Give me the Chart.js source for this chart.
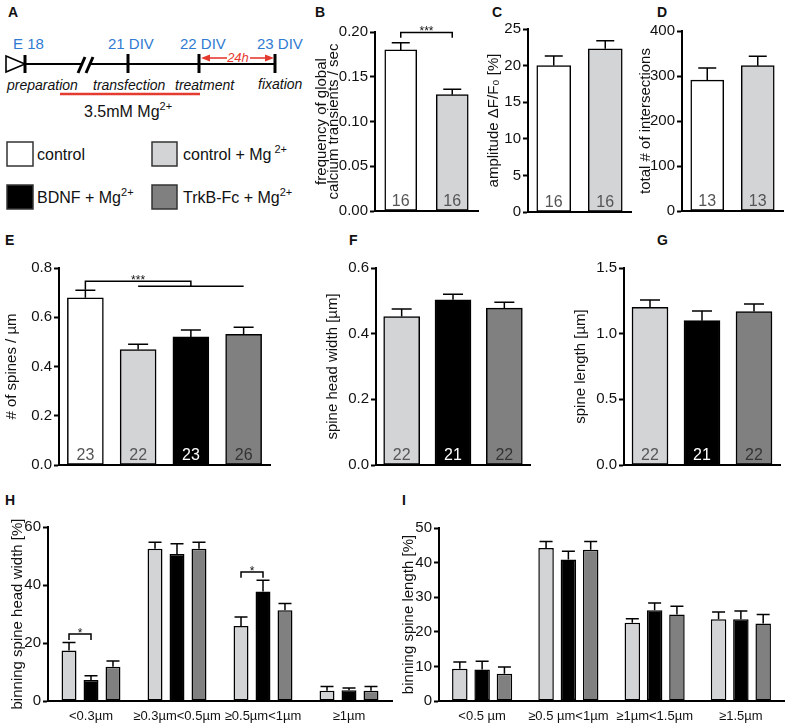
<!DOCTYPE html>
<html>
<head>
<meta charset="utf-8">
<script src="https://cdn.jsdelivr.net/npm/chart.js"></script>
<style>
  body { margin: 0; background: #fff; width: 787px; height: 726px; overflow: hidden; position: relative;
         font-family: "Liberation Sans", Arial, sans-serif; }
  .letter { position: absolute; font-weight: bold; font-size: 14px; line-height: 14px; color: #111; }
</style>
</head>
<body>

<!-- panel A: timeline + legend -->
<svg style="position:absolute;left:0;top:0" width="312" height="215" font-family="Liberation Sans, Arial, sans-serif">
  <g fill="#2f7bd2" font-size="15">
    <text x="13" y="49">E 18</text>
    <text x="108" y="49">21 DIV</text>
    <text x="180" y="49">22 DIV</text>
    <text x="257" y="49">23 DIV</text>
  </g>
  <polygon points="6,56 25,64 6,72" fill="none" stroke="#000" stroke-width="1.6"/>
  <g stroke="#000" stroke-width="2.2">
    <line x1="25" y1="64" x2="82" y2="64"/>
    <line x1="90" y1="64" x2="275" y2="64"/>
  </g>
  <g stroke="#000" stroke-width="3">
    <line x1="25" y1="55" x2="25" y2="73"/>
    <line x1="78" y1="73" x2="85" y2="57"/>
    <line x1="86" y1="73" x2="93" y2="57"/>
    <line x1="128" y1="54" x2="128" y2="73"/>
    <line x1="199" y1="54" x2="199" y2="73"/>
    <line x1="275" y1="54" x2="275" y2="73"/>
  </g>
  <g stroke="#e53a2f" stroke-width="1.6" fill="#e53a2f">
    <line x1="206" y1="58" x2="227" y2="58"/>
    <line x1="250" y1="58" x2="268" y2="58"/>
    <polygon points="201,58 210,54.5 210,61.5" stroke="none"/>
    <polygon points="274,58 265,54.5 265,61.5" stroke="none"/>
  </g>
  <text x="238" y="62" fill="#e53a2f" font-size="13" font-style="italic" text-anchor="middle">24h</text>
  <g font-size="14" font-style="italic" fill="#111">
    <text x="7" y="90">preparation</text>
    <text x="93" y="90">transfection</text>
    <text x="175" y="90">treatment</text>
    <text x="258" y="89">fixation</text>
  </g>
  <line x1="60" y1="94" x2="200" y2="94" stroke="#e53a2f" stroke-width="2.5"/>
  <text x="84" y="117" font-size="16" fill="#111">3.5mM Mg<tspan dy="-7" font-size="11">2+</tspan></text>

  <g stroke="#333" stroke-width="1.5">
    <rect x="7" y="142" width="26" height="24" fill="#ffffff"/>
    <rect x="152" y="142" width="25" height="24" fill="#d3d4d6"/>
    <rect x="7" y="185" width="26" height="24" fill="#000000"/>
    <rect x="152" y="185" width="25" height="24" fill="#808080"/>
  </g>
  <g font-size="16" fill="#111">
    <text x="37" y="160">control</text>
    <text x="183" y="160">control + Mg<tspan dx="3" dy="-7" font-size="11">2+</tspan></text>
    <text x="37" y="203">BDNF + Mg<tspan dy="-7" font-size="11">2+</tspan></text>
    <text x="183" y="203">TrkB-Fc + Mg<tspan dy="-7" font-size="11">2+</tspan></text>
  </g>
</svg>

<div class="letter" style="left:8px;top:5px">A</div>
<div class="letter" style="left:315px;top:5px">B</div>
<div class="letter" style="left:492px;top:5px">C</div>
<div class="letter" style="left:657px;top:5px">D</div>
<div class="letter" style="left:5px;top:233px">E</div>
<div class="letter" style="left:349px;top:233px">F</div>
<div class="letter" style="left:657px;top:233px">G</div>
<div class="letter" style="left:5px;top:493px">H</div>
<div class="letter" style="left:402px;top:493px">I</div>

<script>
// ---- data ----
const groups = ['control', 'control + Mg2+', 'BDNF + Mg2+', 'TrkB-Fc + Mg2+'];

// B: frequency of global calcium transients
const freqVals = [0.180, 0.130];
const freqErr = [0.188, 0.136];
const freqN = ['16', '16'];
const freqTicks = [0, 0.05, 0.10, 0.15, 0.20];

// C: amplitude
const ampVals = [20.0, 22.3];
const ampErr = [21.3, 23.4];
const ampN = ['16', '16'];
const ampTicks = [0, 5, 10, 15, 20, 25];

// D: total # of intersections
const intVals = [291, 323];
const intErr = [318, 344];
const intN = ['13', '13'];
const intTicks = [0, 100, 200, 300, 400];

// E: # of spines / um
const spineVals = [0.679, 0.469, 0.520, 0.531];
const spineErr = [0.710, 0.490, 0.548, 0.559];
const spineN = ['23', '22', '23', '26'];
const spineTicks = [0, 0.2, 0.4, 0.6, 0.8];

// F: spine head width
const headVals = [0.452, 0.503, 0.478];
const headErr = [0.475, 0.520, 0.496];
const headN = ['22', '21', '22'];
const headTicks = [0, 0.2, 0.4, 0.6];

// G: spine length
const lenVals = [1.201, 1.099, 1.168];
const lenErr = [1.257, 1.173, 1.226];
const lenN = ['22', '21', '22'];
const lenTicks = [0, 0.5, 1.0, 1.5];

// H: binning spine head width
const headBins = ['<0.3µm', '≥0.3µm<0.5µm', '≥0.5µm<1µm', '≥1µm'];
const headBinCtrl = [17.4, 52.5, 25.9, 3.5];
const headBinCtrlErr = [20.2, 54.7, 29.0, 5.0];
const headBinBdnf = [7.2, 50.7, 37.8, 3.7];
const headBinBdnfErr = [8.7, 54.2, 41.6, 4.5];
const headBinTrkb = [11.8, 52.5, 31.3, 3.5];
const headBinTrkbErr = [13.8, 54.7, 33.6, 5.0];
const headBinTicks = [0, 20, 40, 60];

// I: binning spine length
const lenBins = ['<0.5 µm', '≥0.5 µm<1µm', '≥1µm<1.5µm', '≥1.5µm'];
const lenBinCtrl = [9.3, 44.2, 22.6, 23.6];
const lenBinCtrlErr = [11.3, 46.1, 23.8, 25.7];
const lenBinBdnf = [9.1, 40.9, 26.2, 23.6];
const lenBinBdnfErr = [11.5, 43.3, 28.3, 26.0];
const lenBinTrkb = [7.9, 43.7, 25.0, 22.4];
const lenBinTrkbErr = [9.8, 46.1, 27.4, 25.0];
const lenBinTicks = [0, 10, 20, 30, 40, 50];

// ---- styles ----
const WHITE = '#ffffff', LIGHT = '#d3d4d6', BLACK = '#000000', DARK = '#808080';

Chart.defaults.font.family = '"Liberation Sans", Arial, sans-serif';
Chart.defaults.color = '#111';
Chart.defaults.animation = false;

function nColor(fill) {
  if (fill === BLACK) return '#ffffff';
  if (fill === DARK) return '#333333';
  return '#555555';
}

// error bars, n labels and significance brackets
const extras = {
  id: 'extras',
  afterDatasetsDraw(chart, args, opts) {
    const ctx = chart.ctx;
    const y = chart.scales.y;
    const zero = y.getPixelForValue(0);
    ctx.save();
    chart.data.datasets.forEach((ds, di) => {
      const meta = chart.getDatasetMeta(di);
      meta.data.forEach((bar, i) => {
        const top = y.getPixelForValue(ds.errTop[i]);
        ctx.strokeStyle = '#000';
        ctx.lineWidth = 1.5;
        ctx.beginPath();
        ctx.moveTo(bar.x, bar.y);
        ctx.lineTo(bar.x, top);
        ctx.moveTo(bar.x - opts.cap, top);
        ctx.lineTo(bar.x + opts.cap, top);
        ctx.stroke();
        if (ds.nLabels) {
          const fill = Array.isArray(ds.backgroundColor) ? ds.backgroundColor[i] : ds.backgroundColor;
          ctx.fillStyle = nColor(fill);
          ctx.font = '16px "Liberation Sans", Arial, sans-serif';
          ctx.textAlign = 'center';
          ctx.textBaseline = 'alphabetic';
          ctx.fillText(ds.nLabels[i], bar.x, zero - 5);
        }
      });
    });

    const bx = r => chart.getDatasetMeta(r[0]).data[r[1]].x;
    const isSpan = r => Array.isArray(r[0]);
    const rx = r => isSpan(r) ? (bx(r[0]) + bx(r[1])) / 2 : bx(r);
    (opts.brackets || []).forEach(b => {
      const xa = rx(b.a), xb = rx(b.b);
      const py = y.getPixelForValue(b.y);
      ctx.strokeStyle = '#000';
      ctx.lineWidth = 1.5;
      ctx.beginPath();
      ctx.moveTo(xa, y.getPixelForValue(b.legA));
      ctx.lineTo(xa, py);
      ctx.lineTo(xb, py);
      ctx.lineTo(xb, y.getPixelForValue(b.legB));
      if (isSpan(b.b)) {
        const pl = y.getPixelForValue(b.legB);
        ctx.moveTo(bx(b.b[0]), pl);
        ctx.lineTo(bx(b.b[1]), pl);
      }
      ctx.stroke();
      ctx.fillStyle = '#111';
      ctx.font = '12px "Liberation Sans", Arial, sans-serif';
      ctx.textAlign = 'center';
      ctx.textBaseline = 'alphabetic';
      ctx.fillText(b.text, (xa + xb) / 2, py + 3);
    });
    ctx.restore();
  }
};

function makePanel(box, data, opt) {
  const padTop = 14, padRight = 2;
  const padBottom = Math.max(2, 12 - box.xH);
  const left = box.axisX - box.yW;
  const top = box.topY - padTop;
  const w = box.rightX - left + padRight;
  const h = box.zeroY - top + box.xH + padBottom;
  const c = document.createElement('canvas');
  c.width = w;
  c.height = h;
  c.style.cssText = 'position:absolute;left:' + left + 'px;top:' + top + 'px;width:' + w + 'px;height:' + h + 'px';
  document.body.appendChild(c);

  new Chart(c, {
    type: 'bar',
    data: data,
    options: {
      responsive: false,
      events: [],
      layout: { padding: { top: padTop, right: padRight, bottom: padBottom, left: 0 } },
      plugins: {
        legend: { display: false },
        tooltip: { enabled: false },
        extras: { cap: opt.cap, brackets: opt.brackets || [] }
      },
      scales: {
        x: {
          offset: true,
          grid: { display: false, drawTicks: false, tickLength: 0 },
          border: { display: true, color: '#000', width: 2 },
          ticks: { display: !!opt.showX, font: { size: 13 }, padding: 8, maxRotation: 0, autoSkip: false, color: '#111' },
          afterFit: s => { s.height = box.xH; }
        },
        y: {
          min: opt.ticks[0],
          max: opt.ticks[opt.ticks.length - 1],
          afterBuildTicks: s => { s.ticks = opt.ticks.map(v => ({ value: v })); },
          afterFit: s => { s.width = box.yW; },
          grid: { drawOnChartArea: false, drawTicks: true, tickLength: 5, tickWidth: 2, tickColor: '#000' },
          border: { display: true, color: '#000', width: 2 },
          ticks: { font: { size: 15 }, padding: 2, color: '#111', callback: v => v.toFixed(opt.dec) },
          title: { display: true, text: opt.title, font: { size: 15, lineHeight: opt.titleLH || 1.2 }, padding: 0, color: '#111' }
        }
      }
    },
    plugins: [extras]
  });
}

function single(labels, vals, err, n, fills, bw) {
  return {
    labels: labels,
    datasets: [{
      data: vals, errTop: err, nLabels: n,
      backgroundColor: fills, borderColor: '#000', borderWidth: 1.5,
      borderSkipped: false, barThickness: bw
    }]
  };
}

function grouped(labels, sets, catPct, barPct) {
  return {
    labels: labels,
    datasets: sets.map(s => ({
      data: s[0], errTop: s[1], backgroundColor: s[2],
      borderColor: '#000', borderWidth: 1.5, borderSkipped: false,
      categoryPercentage: catPct, barPercentage: barPct
    }))
  };
}

// B
makePanel({ axisX: 375, topY: 32, zeroY: 211, rightX: 478, yW: 60, xH: 0 },
  single(groups.slice(0, 2), freqVals, freqErr, freqN, [WHITE, LIGHT], 32),
  { ticks: freqTicks, dec: 2, cap: 9, titleLH: 0.85,
    title: ['frequency of global', 'calcium transients / sec'],
    brackets: [{ a: [0, 0], b: [0, 1], y: 0.1995, legA: 0.1935, legB: 0.1935, text: '***' }] });

// C
makePanel({ axisX: 528, topY: 29, zeroY: 212, rightX: 631, yW: 43, xH: 0 },
  single(groups.slice(0, 2), ampVals, ampErr, ampN, [WHITE, LIGHT], 34),
  { ticks: ampTicks, dec: 0, cap: 9, title: 'amplitude ΔF/F₀ [%]' });

// D
makePanel({ axisX: 682, topY: 31, zeroY: 211, rightX: 783, yW: 45, xH: 0 },
  single(groups.slice(0, 2), intVals, intErr, intN, [WHITE, LIGHT], 33),
  { ticks: intTicks, dec: 0, cap: 9, title: 'total # of intersections' });

// E
makePanel({ axisX: 59, topY: 268, zeroY: 465, rightX: 270, yW: 56, xH: 0 },
  single(groups, spineVals, spineErr, spineN, [WHITE, LIGHT, BLACK, DARK], 36),
  { ticks: spineTicks, dec: 1, cap: 10, title: '# of spines / µm',
    brackets: [{ a: [0, 0], b: [[0, 1], [0, 3]], y: 0.746, legA: 0.712, legB: 0.726, text: '***' }] });

// F
makePanel({ axisX: 376, topY: 268, zeroY: 465, rightX: 530, yW: 52, xH: 0 },
  single(groups.slice(1), headVals, headErr, headN, [LIGHT, BLACK, DARK], 36),
  { ticks: headTicks, dec: 1, cap: 10, title: 'spine head width [µm]' });

// G
makePanel({ axisX: 624, topY: 268, zeroY: 465, rightX: 780, yW: 52, xH: 0 },
  single(groups.slice(1), lenVals, lenErr, lenN, [LIGHT, BLACK, DARK], 36),
  { ticks: lenTicks, dec: 1, cap: 10, title: 'spine length [µm]' });

// H
makePanel({ axisX: 48, topY: 527, zeroY: 701, rightX: 392, yW: 39, xH: 24 },
  grouped(headBins, [
    [headBinCtrl, headBinCtrlErr, LIGHT],
    [headBinBdnf, headBinBdnfErr, BLACK],
    [headBinTrkb, headBinTrkbErr, DARK]
  ], 0.767, 0.68),
  { ticks: headBinTicks, dec: 0, cap: 6.5, showX: true, title: 'binning spine head width [%]',
    brackets: [
      { a: [0, 0], b: [1, 0], y: 23.1, legA: 21, legB: 21, text: '*' },
      { a: [0, 2], b: [1, 2], y: 44.5, legA: 42.5, legB: 42.5, text: '*' }
    ] });

// I
makePanel({ axisX: 439, topY: 528, zeroY: 701, rightX: 784, yW: 39, xH: 24 },
  grouped(lenBins, [
    [lenBinCtrl, lenBinCtrlErr, LIGHT],
    [lenBinBdnf, lenBinBdnfErr, BLACK],
    [lenBinTrkb, lenBinTrkbErr, DARK]
  ], 0.776, 0.695),
  { ticks: lenBinTicks, dec: 0, cap: 6.5, showX: true, title: 'binning spine length [%]' });
</script>
</body>
</html>
